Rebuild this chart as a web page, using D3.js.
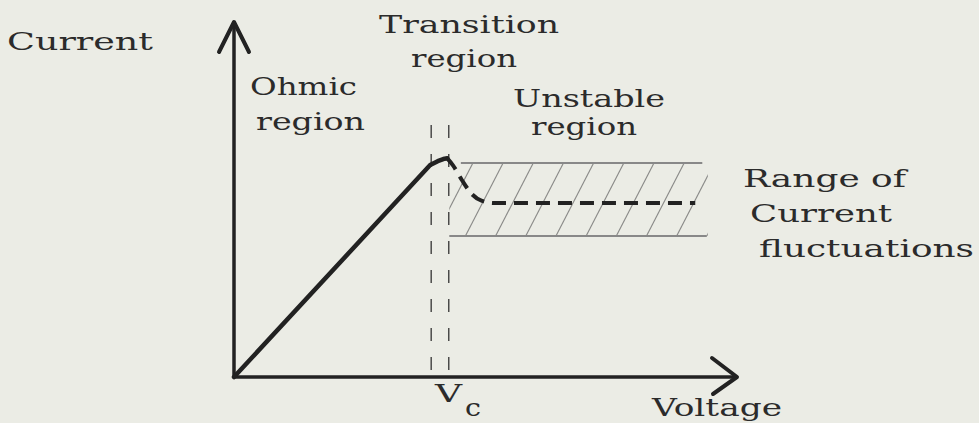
<!DOCTYPE html>
<html>
<head>
<meta charset="utf-8">
<script src="https://cdn.jsdelivr.net/npm/d3@7"></script>
<style>
  html, body { margin: 0; padding: 0; background: #ebece5; }
  svg text { font-family: "DejaVu Serif", "Liberation Serif", serif; fill: #2b2b2b; }
</style>
</head>
<body>
<svg id="chart" width="979" height="423"></svg>
<script>
// ohmic part of the curve (voltage, current in arbitrary units 0-100)
const ohmicV = [0, 39, 40.5, 41.6, 42.4];
const ohmicI = [0, 59.7, 60.8, 61.4, 61.6];

// transition / unstable part (dashed)
const transV = [42.4, 43.5, 45.3, 47.3, 49.3, 51.9, 91.7];
const transI = [61.6, 59.7, 55.5, 51.5, 49.6, 49.0, 49.0];

// range of current fluctuations band
const bandTopV = [45.1, 93.1];
const bandTopI = 60.3;
const bandBottomV = [42.8, 94.0];
const bandBottomI = 39.7;

// hatching, where each stroke meets the bottom of the band
const hatchBottomV = [40, 46, 52, 58, 64, 70, 76, 82, 88, 94];
const hatchLean = 7.5;

// critical voltage dashed markers
const vcV = [39.2, 42.7];
const vcTopI = 71;

const labels = [
    {t: "Current", x: 7, y: 50, w: 146},
    {t: "Transition", x: 379, y: 33, w: 180},
    {t: "region", x: 411, y: 67, w: 106},
    {t: "Ohmic", x: 250, y: 95, w: 107},
    {t: "region", x: 256, y: 130, w: 109},
    {t: "Unstable", x: 513, y: 107, w: 152},
    {t: "region", x: 531, y: 135, w: 106},
    {t: "Range of", x: 743, y: 187, w: 163},
    {t: "Current", x: 750, y: 222, w: 142},
    {t: "fluctuations", x: 759, y: 257, w: 215},
    {t: "V", x: 435, y: 402, w: 27},
    {t: "c", x: 465, y: 416, w: 16},
    {t: "Voltage", x: 652, y: 416, w: 130}
];

const svg = d3.select('#chart');

const xScale = d3.scaleLinear().domain([0, 100]).range([234, 737]);
const yScale = d3.scaleLinear().domain([0, 100]).range([377, 22]);

const ink = '#222';

// hatch clip
svg.append('clipPath').attr('id', 'bandclip')
    .append('rect')
    .attr('x', xScale(bandBottomV[0]))
    .attr('y', yScale(bandTopI))
    .attr('width', xScale(94.2) - xScale(bandBottomV[0]))
    .attr('height', yScale(bandBottomI) - yScale(bandTopI));

svg.append('g')
    .attr('clip-path', 'url(#bandclip)')
    .selectAll('line')
    .data(hatchBottomV)
    .join('line')
    .attr('x1', d => xScale(d))
    .attr('y1', yScale(bandBottomI))
    .attr('x2', d => xScale(d + hatchLean))
    .attr('y2', yScale(bandTopI))
    .attr('stroke', '#8a8a88')
    .attr('stroke-width', 1.1);

// band edges
svg.append('line')
    .attr('x1', xScale(bandTopV[0])).attr('x2', xScale(bandTopV[1]))
    .attr('y1', yScale(bandTopI)).attr('y2', yScale(bandTopI))
    .attr('stroke', '#888').attr('stroke-width', 2);
svg.append('line')
    .attr('x1', xScale(bandBottomV[0])).attr('x2', xScale(bandBottomV[1]))
    .attr('y1', yScale(bandBottomI)).attr('y2', yScale(bandBottomI))
    .attr('stroke', '#888').attr('stroke-width', 2);

// Vc dashed lines
svg.append('g')
    .selectAll('line')
    .data(vcV)
    .join('line')
    .attr('x1', d => xScale(d)).attr('x2', d => xScale(d))
    .attr('y1', yScale(vcTopI)).attr('y2', yScale(0))
    .attr('stroke', '#333')
    .attr('stroke-width', 1.3)
    .attr('stroke-dasharray', '13,16');

// axes with open arrow heads
svg.append('line')
    .attr('x1', xScale(0)).attr('y1', yScale(0))
    .attr('x2', xScale(0)).attr('y2', yScale(100))
    .attr('stroke', ink).attr('stroke-width', 3.5);
svg.append('path')
    .attr('d', `M${xScale(0) - 15},${yScale(100) + 30} L${xScale(0)},${yScale(100)} L${xScale(0) + 15},${yScale(100) + 30}`)
    .attr('fill', 'none').attr('stroke', ink).attr('stroke-width', 4)
    .attr('stroke-linejoin', 'round').attr('stroke-linecap', 'round');

svg.append('line')
    .attr('x1', xScale(0)).attr('y1', yScale(0))
    .attr('x2', xScale(100)).attr('y2', yScale(0))
    .attr('stroke', ink).attr('stroke-width', 3.5);
svg.append('path')
    .attr('d', `M${xScale(100) - 25},${yScale(0) - 19} L${xScale(100)},${yScale(0)} L${xScale(100) - 24},${yScale(0) + 17}`)
    .attr('fill', 'none').attr('stroke', ink).attr('stroke-width', 4)
    .attr('stroke-linejoin', 'round').attr('stroke-linecap', 'round');

// ohmic rise
const straight = d3.line()
    .x(d => xScale(d[0]))
    .y(d => yScale(d[1]));

svg.append('path')
    .datum(ohmicV.map((v, i) => [v, ohmicI[i]]))
    .attr('d', straight)
    .attr('fill', 'none')
    .attr('stroke', ink)
    .attr('stroke-width', 4.5)
    .attr('stroke-linecap', 'round')
    .attr('stroke-linejoin', 'round');

// transition and unstable part
const smooth = d3.line()
    .x(d => xScale(d[0]))
    .y(d => yScale(d[1]))
    .curve(d3.curveMonotoneX);

svg.append('path')
    .datum(transV.map((v, i) => [v, transI[i]]))
    .attr('d', smooth)
    .attr('fill', 'none')
    .attr('stroke', ink)
    .attr('stroke-width', 4)
    .attr('stroke-dasharray', '14,8');

// labels, stretched to the wide typewriter look
svg.append('g')
    .selectAll('text')
    .data(labels)
    .join('text')
    .attr('x', d => d.x)
    .attr('y', d => d.y)
    .attr('font-size', 25)
    .attr('textLength', d => d.w)
    .attr('lengthAdjust', 'spacingAndGlyphs')
    .text(d => d.t);
</script>
</body>
</html>
